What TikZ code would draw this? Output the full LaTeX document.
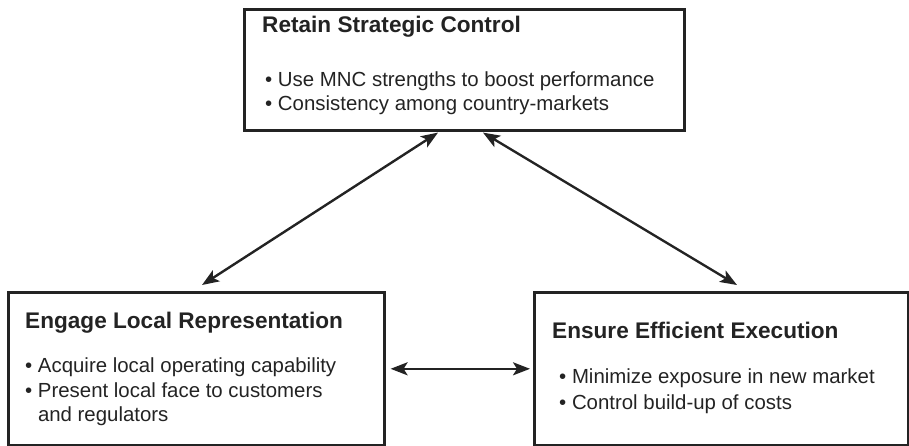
\documentclass[tikz,border=0pt]{standalone}
\usepackage{fontspec}
\setmainfont{Liberation Sans}
\usetikzlibrary{arrows.meta}
\definecolor{ink}{HTML}{232323}
\begin{document}
\begin{tikzpicture}[x=1pt,y=-1pt,
  box/.style={draw=ink,line width=2.6pt,rectangle,anchor=north west,inner sep=0pt},
  ttl/.style={anchor=base west,inner sep=0pt,text=ink,font=\fontsize{22.6}{26}\selectfont\bfseries},
  txt/.style={anchor=base west,inner sep=0pt,text=ink,font=\fontsize{20.4}{24}\selectfont},
  arr/.style={draw=ink,line width=2.4pt,{Stealth[length=17pt,width=13pt,inset=4pt]}-{Stealth[length=17pt,width=13pt,inset=4pt]}}]
\useasboundingbox (0,0) rectangle (909,445);
% boxes
\node[box,minimum width=440pt,minimum height=121pt] (top) at (243,8) {};
\node[box,minimum width=376pt,minimum height=153pt] (left) at (7,291) {};
\node[box,minimum width=374pt,minimum height=153pt] (right) at (533,291) {};
% top texts
\node[ttl] (t0) at (262,32) {Retain Strategic Control};
\node[txt] (t1) at (265,86) {\textbullet\ Use MNC strengths to boost performance};
\node[txt] (t2) at (265,110) {\textbullet\ Consistency among country-markets};
% left texts
\node[ttl] (l0) at (25,328) {Engage Local Representation};
\node[txt] (l1) at (25,372) {\textbullet\ Acquire local operating capability};
\node[txt] (l2) at (25,397) {\textbullet\ Present local face to customers};
\node[txt] (l3) at (25,421) {\phantom{\textbullet\ }and regulators};
% right texts
\node[ttl] (r0) at (552,338) {Ensure Efficient Execution};
\node[txt] (r1) at (559,383) {\textbullet\ Minimize exposure in new market};
\node[txt] (r2) at (559,409) {\textbullet\ Control build-up of costs};
% connectors
\draw[arr] ([xshift=195pt,yshift=-1pt]top.south west) -- ([xshift=195pt,yshift=6pt]left.north west);
\draw[arr] ([xshift=240pt,yshift=-1pt]top.south west) -- ([xshift=204pt,yshift=6pt]right.north west);
\draw[arr] ([xshift=5pt]left.east) -- ([xshift=-3pt]right.west);
\end{tikzpicture}
\end{document}
